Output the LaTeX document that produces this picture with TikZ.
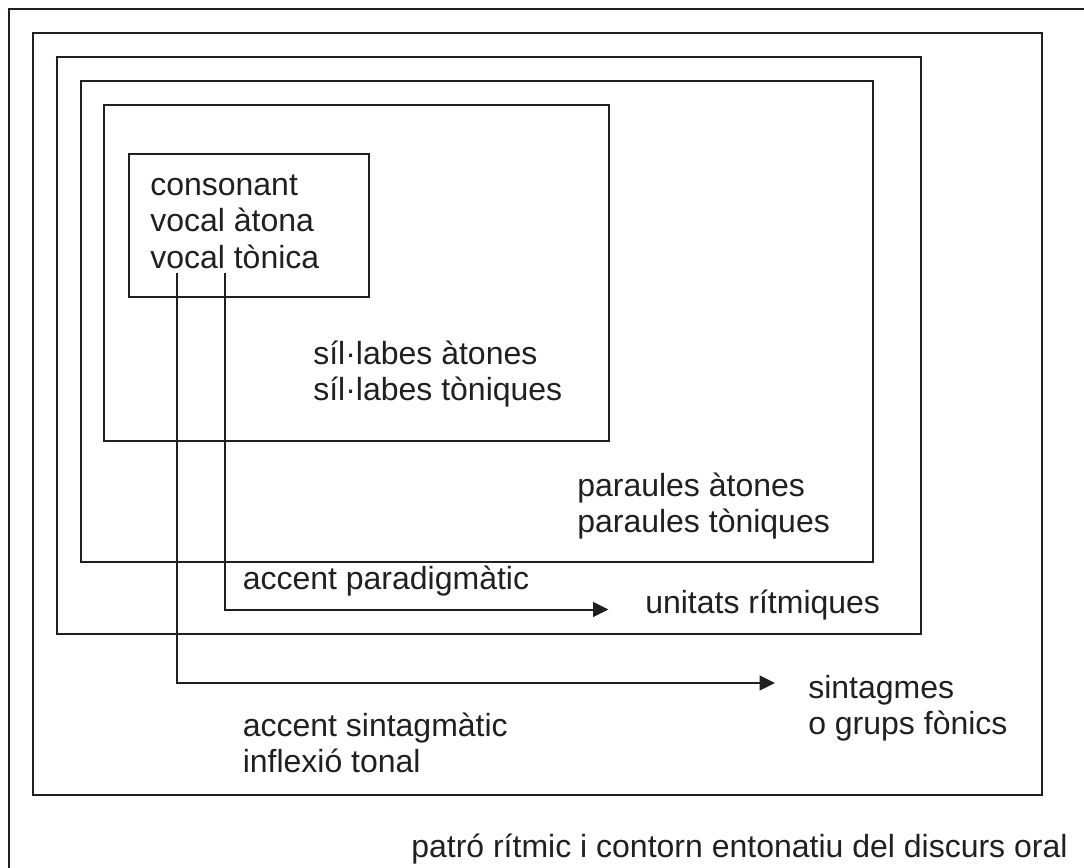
\documentclass[tikz,border=0pt]{standalone}
\usepackage{fontspec}
\setmainfont{Liberation Sans}
\usetikzlibrary{arrows.meta}
\definecolor{ink}{HTML}{231F20}
\begin{document}
\begin{tikzpicture}[x=0.75pt,y=-0.75pt,
  frame/.style={draw=ink,line width=1.5pt},
  lbl/.style={anchor=base west,inner sep=0pt,text=ink,font=\fontsize{24}{27}\selectfont},
  link/.style={draw=ink,line width=1.5pt,-{Triangle[length=11.5pt,width=11pt]}}]
\useasboundingbox (0,0) rectangle (1084,867);
\clip (0,0) rectangle (1084,867);
% frames
\draw[frame] (8.5,900) -- (8.5,9.5) -- (1100,9.5);
\draw[frame] (32.5,33.5) rectangle (1041.7,795);
\draw[frame] (56.7,57) rectangle (921.3,634);
\draw[frame] (80.8,81.5) rectangle (873,561.5);
\draw[frame] (104.3,105.2) rectangle (609,441.3);
\draw[frame] (128.5,153.5) rectangle (369,296.8);
% texts
\node[lbl] (t1) at (150,195) {consonant};
\node[lbl] (t2) at (150,231.5) {vocal àtona};
\node[lbl] (t3) at (150,268) {vocal tònica};
\node[lbl] (s1) at (313,364) {síl·labes àtones};
\node[lbl] (s2) at (313,400.5) {síl·labes tòniques};
\node[lbl] (p1) at (577,496) {paraules àtones};
\node[lbl] (p2) at (577,532.5) {paraules tòniques};
\node[lbl] (ap) at (242.5,589) {accent paradigmàtic};
\node[lbl] (ur) at (645,613) {unitats rítmiques};
\node[lbl] (sg1) at (808,698) {sintagmes};
\node[lbl] (sg2) at (808,734) {o grups fònics};
\node[lbl] (as1) at (242.5,736) {accent sintagmàtic};
\node[lbl] (as2) at (242.5,772) {inflexió tonal};
\node[lbl] (pr) at (411,857) {patró rítmic i contorn entonatiu del discurs oral};
% connectors
\coordinate (a1s) at (225,273);
\coordinate (a1e) at (608.5,609.5);
\coordinate (a2s) at (176.7,273);
\coordinate (a2e) at (775,683);
\draw[link] (a1s) |- (a1e);
\draw[link] (a2s) |- (a2e);
\end{tikzpicture}
\end{document}
